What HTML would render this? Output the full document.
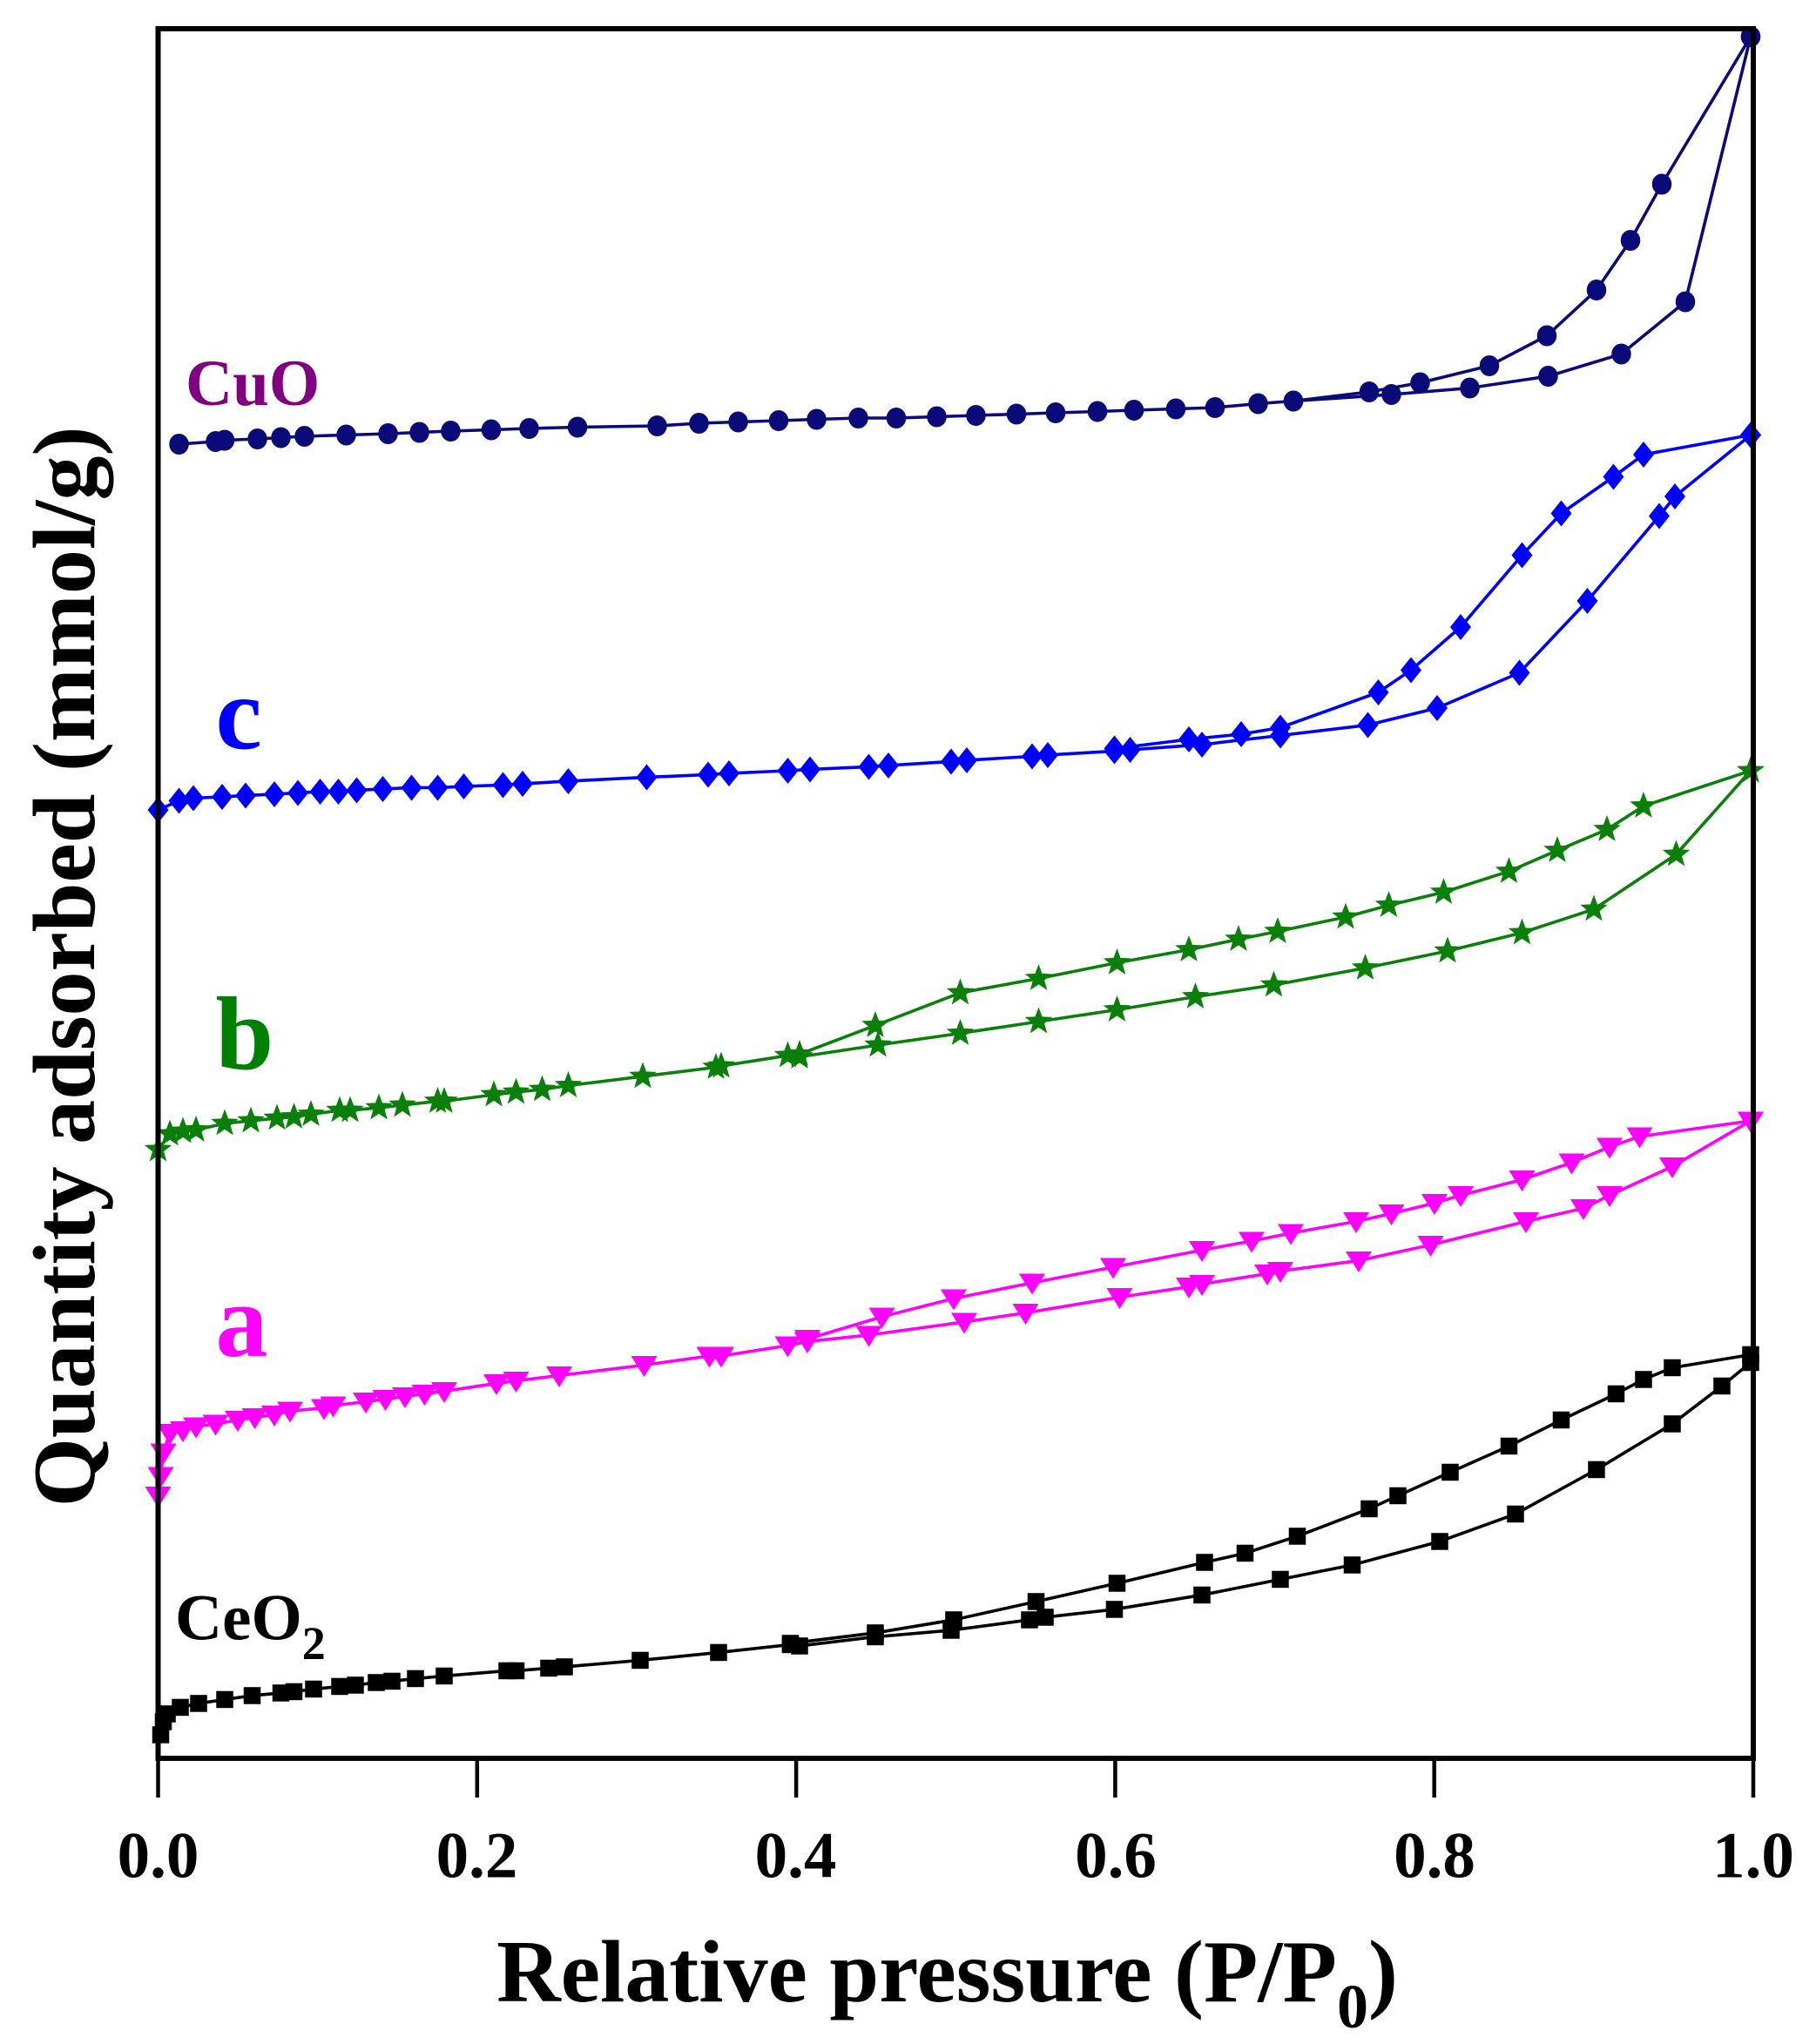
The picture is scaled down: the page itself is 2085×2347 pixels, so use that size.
<!DOCTYPE html>
<html><head><meta charset="utf-8"><style>
html,body{margin:0;padding:0;background:#fff;}
svg{display:block;}
text{font-family:"Liberation Serif",serif;font-weight:bold;}
</style></head><body>
<svg id="s" width="2085" height="2347" viewBox="0 0 1390 1564.7" xmlns="http://www.w3.org/2000/svg">
<rect x="0" y="0" width="1390" height="1565" fill="#fff"/>
<g id="data"></g>
<rect x="121" y="22" width="1221" height="1324" fill="none" stroke="#000" stroke-width="4"/>
<g stroke="#000" stroke-width="3">
<line x1="121" y1="1346" x2="121" y2="1376"/><line x1="365.2" y1="1346" x2="365.2" y2="1376"/>
<line x1="609.4" y1="1346" x2="609.4" y2="1376"/><line x1="853.6" y1="1346" x2="853.6" y2="1376"/>
<line x1="1097.8" y1="1346" x2="1097.8" y2="1376"/><line x1="1342" y1="1346" x2="1342" y2="1376"/>
</g>
<g font-size="50" text-anchor="middle" fill="#000">
<text x="121" y="1437">0.0</text><text x="365" y="1437">0.2</text><text x="609" y="1437">0.4</text>
<text x="854" y="1437">0.6</text><text x="1098" y="1437">0.8</text><text x="1342" y="1437">1.0</text>
</g>
<text x="725" y="1532" font-size="68" text-anchor="middle">Relative pressure (P/P<tspan font-size="48" dy="20">0</tspan><tspan dy="-20">)</tspan></text>
<text transform="translate(72,740) rotate(-90)" font-size="68" text-anchor="middle">Quantity adsorbed (mmol/g)</text>
<text x="142" y="310" font-size="50" fill="#800080">CuO</text>
<text x="165" y="573" font-size="80" fill="#0000ff">c</text>
<text x="165" y="818" font-size="80" fill="#008000">b</text>
<text x="165" y="1038" font-size="80" fill="#ff00ff">a</text>
<text x="134" y="1255" font-size="50" fill="#000">CeO<tspan font-size="36" dy="15">2</tspan></text>
</svg>
<script>
var S=[
{c:"#0a0a78",m:"o",a:[[137,340],[165,338],[172,337],[197,336],[215,335],[233,334],[265,333],[297,332],[321,331],[345,330],[376,329],[405,328],[442,327],[503,326],[535,324],[565,323],[596,322],[625,321],[657,320],[686,320],[717,319],[747,318],[778,317],[808,316],[840,315],[868,314],[900,313],[930,312],[963,309],[990,307],[1065,302],[1125,297],[1185,288],[1241,271],[1290,231],[1340,28]],
d:[[1340,28],[1272,141],[1248,184],[1222,222],[1184,257],[1140,280],[1087,293],[1048,300],[990,307]]},
{c:"#0000ff",m:"d",a:[[121,620],[137,613],[148,611],[170,610],[188,609],[210,608],[228,607],[245,606],[259,606],[273,605],[293,604],[315,603],[335,603],[355,602],[385,601],[400,600],[435,598],[495,595],[542,593],[558,592],[603,590],[620,589],[665,587],[680,586],[728,583],[740,582],[790,579],[802,578],[853,575],[865,574],[920,570],[980,563],[1047,555],[1100,542],[1163,515],[1215,460],[1270,395],[1282,380],[1340,333]],
d:[[1340,333],[1258,348],[1235,365],[1195,393],[1165,425],[1118,480],[1080,513],[1055,530],[980,557],[950,562],[910,566],[853,573]]},
{c:"#0a800a",m:"s",a:[[121,880],[130,868],[140,866],[150,865],[172,860],[192,858],[212,856],[225,855],[238,853],[260,850],[268,850],[290,848],[308,846],[335,843],[340,843],[378,838],[395,836],[415,834],[435,831],[492,824],[548,817],[552,816],[603,808],[612,809],[672,800],[735,791],[795,782],[855,773],[915,763],[975,754],[1045,741],[1108,728],[1165,714],[1220,696],[1283,654],[1340,590]],
d:[[1340,590],[1258,617],[1230,635],[1192,651],[1155,667],[1105,683],[1063,693],[1030,702],[978,713],[948,719],[910,727],[855,737],[795,749],[735,760],[670,785],[612,807]]},
{c:"#ff00ff",m:"v",a:[[121,1145],[123,1130],[125,1112],[130,1097],[140,1095],[150,1092],[165,1090],[182,1087],[195,1085],[210,1083],[222,1080],[248,1078],[255,1076],[280,1073],[295,1071],[310,1069],[325,1067],[340,1065],[380,1059],[395,1057],[428,1053],[493,1045],[543,1038],[552,1038],[603,1030],[618,1027],[665,1022],[738,1012],[785,1005],[857,993],[910,985],[920,983],[970,975],[980,973],[1040,965],[1095,953],[1168,935],[1212,925],[1232,915],[1280,893],[1340,858]],
d:[[1340,858],[1255,870],[1232,878],[1203,890],[1165,903],[1118,915],[1098,921],[1065,929],[1038,935],[988,944],[958,950],[920,957],[852,970],[790,982],[730,994],[675,1008],[618,1025]]},
{c:"#000",m:"q",a:[[123,1328],[125,1318],[128,1312],[138,1307],[152,1304],[172,1301],[193,1298],[215,1296],[225,1295],[240,1293],[260,1291],[272,1290],[288,1288],[300,1287],[318,1285],[340,1283],[388,1279],[395,1279],[420,1277],[432,1276],[490,1271],[550,1265],[605,1259],[612,1260],[670,1253],[728,1248],[788,1240],[800,1238],[853,1232],[920,1221],[980,1209],[1035,1198],[1102,1180],[1160,1159],[1222,1125],[1280,1090],[1318,1061],[1340,1043]],
d:[[1340,1037],[1280,1047],[1258,1056],[1237,1067],[1195,1087],[1155,1107],[1110,1127],[1070,1145],[1048,1155],[993,1176],[953,1189],[922,1196],[855,1212],[793,1226],[730,1240],[670,1250],[605,1258]]}
];
function star(x,y,r){var p=[];for(var i=0;i<10;i++){var a=-Math.PI/2+i*Math.PI/5,rr=i%2?r*0.42:r;p.push((x+rr*Math.cos(a)).toFixed(1)+","+(y+rr*Math.sin(a)).toFixed(1));}return p.join(" ");}
function mk(m,x,y,c){
 if(m=="o")return '<ellipse cx="'+x+'" cy="'+y+'" rx="7.5" ry="8" fill="'+c+'"/>';
 if(m=="d")return '<polygon points="'+x+','+(y-10)+' '+(x+8)+','+y+' '+x+','+(y+10)+' '+(x-8)+','+y+'" fill="'+c+'"/>';
 if(m=="s")return '<polygon points="'+star(x,y,11)+'" fill="'+c+'"/>';
 if(m=="v")return '<polygon points="'+(x-10)+','+(y-7)+' '+(x+10)+','+(y-7)+' '+x+','+(y+9)+'" fill="'+c+'"/>';
 return '<rect x="'+(x-6.5)+'" y="'+(y-6.5)+'" width="13" height="13" fill="'+c+'"/>';
}
var h="";
S.forEach(function(s){
 [s.a,s.d].forEach(function(p){h+='<polyline fill="none" stroke="'+s.c+'" stroke-width="2.4" points="'+p.map(function(q){return q.join(",")}).join(" ")+'"/>';});
 s.a.concat(s.d).forEach(function(q){h+=mk(s.m,q[0],q[1],s.c);});
});
document.getElementById("data").innerHTML=h;
</script>
</body></html>
